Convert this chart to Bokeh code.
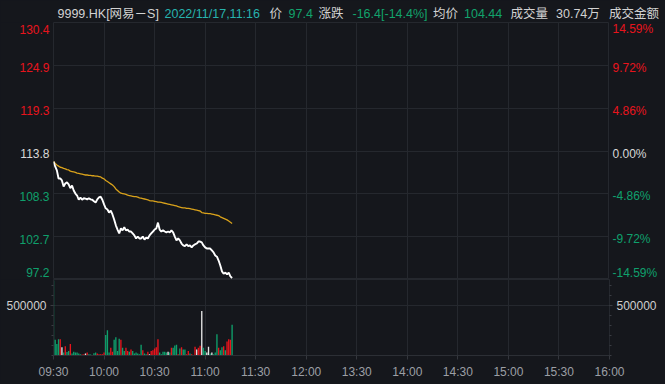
from bokeh.plotting import figure
from bokeh.models import Range1d, FixedTicker, ColumnDataSource, LinearAxis
from bokeh.layouts import column, row
from bokeh.transform import factor_cmap
from bokeh.core.properties import value
from bokeh.embed import file_html
from bokeh.resources import INLINE

# ---------------- data ----------------
prev_close = 113.8
minutes = list(range(107))  # minutes since 09:30 (11:16 last)
price = [
    112.44, 111.8, 111.3, 110.25, 110.25, 110.0, 109.2, 109.6, 109.75, 109.5,
    109.0, 109.35, 108.7, 108.3, 108.05, 107.5, 107.8, 107.5, 107.7, 107.65,
    107.55, 107.7, 107.55, 107.5, 107.3, 107.15, 107.55, 107.8, 107.9, 107.5,
    106.9, 106.4, 106.25, 105.85, 106.1, 105.6, 104.95, 104.2, 103.65, 103.15,
    103.8, 103.55, 103.95, 103.55, 103.65, 103.4, 103.4, 103.15, 102.9, 102.5,
    102.75, 102.5, 102.5, 102.75, 102.35, 102.6, 102.5, 102.9, 103.15, 103.4,
    103.65, 103.8, 104.55, 103.65, 103.4, 103.55, 103.4, 103.3, 103.4, 103.3,
    103.55, 103.3, 102.75, 102.25, 102.5, 102.25, 101.85, 101.6, 101.5, 101.75,
    101.5, 101.6, 101.35, 101.6, 101.75, 101.85, 102.1, 102.1, 102.0, 101.6,
    101.35, 101.2, 101.2, 101.2, 100.95, 100.7, 100.3, 100.15, 99.65, 99.0,
    98.25, 97.95, 98.1, 97.85, 98.1, 97.6, 97.4]
avg_price = [
    112.45, 112.2, 112.0, 111.85, 111.7, 111.65, 111.55, 111.5, 111.4, 111.35,
    111.2, 111.15, 111.1, 111.05, 110.95, 110.9, 110.85, 110.8, 110.75, 110.7,
    110.7, 110.65, 110.65, 110.6, 110.6, 110.55, 110.55, 110.5, 110.45, 110.3,
    110.2, 110.0, 109.85, 109.7, 109.55, 109.4, 109.2, 108.9, 108.7, 108.5,
    108.35, 108.3, 108.25, 108.2, 108.1, 108.05, 108.0, 107.95, 107.9, 107.9,
    107.85, 107.75, 107.7, 107.65, 107.6, 107.55, 107.5, 107.4, 107.35, 107.35,
    107.3, 107.25, 107.2, 107.2, 107.15, 107.1, 107.05, 107.0, 106.95, 106.9,
    106.85, 106.8, 106.75, 106.7, 106.6, 106.55, 106.5, 106.45, 106.45, 106.4,
    106.4, 106.35, 106.3, 106.25, 106.2, 106.15, 106.1, 106.05, 105.85, 105.8,
    105.75, 105.75, 105.7, 105.7, 105.65, 105.6, 105.55, 105.5, 105.45, 105.3,
    105.2, 105.1, 105.0, 104.9, 104.75, 104.6, 104.44]
volume = [
    745000, 156000, 115000, 162000, 162000, 83000, 29000, 92000, 35000, 45000,
    115000, 19000, 38000, 29000, 29000, 19000, 13000, 9000, 13000, 19000,
    29000, 13000, 10000, 6000, 22000, 29000, 19000, 13000, 13000, 13000,
    29000, 204000, 252000, 29000, 76000, 38000, 156000, 182000, 45000, 166000,
    156000, 76000, 45000, 76000, 45000, 38000, 60000, 45000, 19000, 29000,
    19000, 13000, 108000, 51000, 19000, 13000, 38000, 13000, 45000, 51000,
    70000, 83000, 162000, 29000, 13000, 38000, 38000, 29000, 38000, 29000,
    76000, 76000, 99000, 108000, 13000, 70000, 83000, 60000, 60000, 13000,
    45000, 19000, 13000, 6000, 86000, 60000, 76000, 96000, 443000, 76000,
    45000, 29000, 86000, 19000, 29000, 13000, 29000, 210000, 76000, 51000,
    83000, 92000, 51000, 140000, 162000, 156000, 306000]
direction = [
    "d", "d", "d", "d", "u", "f", "d", "u", "d", "d",
    "u", "d", "d", "d", "d", "d", "d", "u", "u", "f",
    "u", "d", "d", "d", "d", "d", "u", "u", "u", "u",
    "u", "d", "d", "d", "u", "u", "d", "d", "d", "d",
    "u", "d", "d", "u", "u", "d", "u", "d", "d", "d",
    "d", "d", "d", "u", "d", "d", "u", "f", "u", "u",
    "u", "u", "u", "d", "d", "d", "d", "d", "f", "d",
    "u", "d", "d", "d", "u", "d", "u", "d", "d", "u",
    "u", "d", "u", "d", "u", "f", "u", "u", "f", "d",
    "d", "f", "f", "d", "f", "d", "d", "d", "u", "d",
    "d", "u", "d", "u", "u", "u", "d"]
time_ticks = [0, 30, 60, 90, 120, 150, 180, 210, 240, 270, 300, 330]
time_labels = ["09:30", "10:00", "10:30", "11:00", "11:30", "12:00",
               "13:30", "14:00", "14:30", "15:00", "15:30", "16:00"]
price_ticks = [130.4, 124.9, 119.3, 113.8, 108.3, 102.7, 97.2]
price_labels = ["130.4", "124.9", "119.3", "113.8", "108.3", "102.7", "97.2"]
pct_labels = ["14.59%", "9.72%", "4.86%", "0.00%", "-4.86%", "-9.72%", "-14.59%"]
vol_tick = 500000
vol_minor = [0, 100000, 200000, 300000, 400000, 500000, 600000, 700000]
header_text = ["9999.HK[网易－S]", "2022/11/17,11:16", "价", "97.4", "涨跌",
               "-16.4[-14.4%]", "均价", "104.44", "成交量", "30.74万", "成交金额"]
header_kind = ["name", "time", "key", "val", "key", "val", "key", "val", "key",
               "plain", "key"]

# ---------------- style ----------------
BG = "#15171c"
GRID = "#25282e"
RED = "#e8141c"
GREEN = "#0fa06c"
WHITE = "#e6e6e6"
GOLD = "#d9a21b"
LABEL_GRAY = "#9c9fa5"
FONT = "Liberation Sans, Noto Sans CJK SC, sans-serif"
W = 665
FRAME_L, FRAME_R = 53, 56
FW = W - FRAME_L - FRAME_R
HEAD_H = 22
PRICE_H = 257


def bare(fig):
    fig.xaxis.visible = False
    fig.yaxis.visible = False
    fig.xgrid.visible = False
    fig.ygrid.visible = False
    return fig


common = dict(output_backend="svg", toolbar_location=None,
              min_border_left=0, min_border_right=0, min_border_top=0, min_border_bottom=0,
              background_fill_color=BG, border_fill_color=BG)

# ---------------- header strip ----------------
ph = bare(figure(width=W, height=HEAD_H, x_range=Range1d(0, W), y_range=Range1d(HEAD_H, 0),
                 outline_line_color=None, **common))
head_x = [57, 164, 269, 288, 318, 352, 432.5, 463.5, 510, 555.5, 608.5]
head_col_map = {"name": "#d2d2d2", "time": "#27b3ae", "key": "#d2d2d2",
                "val": "#12a36c", "plain": "#d2d2d2"}
ph.text(x=head_x, y=[13] * len(head_x), text=header_text,
        text_color=[head_col_map[k] for k in header_kind],
        text_font=value(FONT), text_font_size="12.5px",
        text_align="left", text_baseline="middle")

# ---------------- price panel ----------------
yr = Range1d(price_ticks[-1], price_ticks[0])
pp = figure(width=FW, height=PRICE_H, x_range=Range1d(0, 330), y_range=yr,
            outline_line_color=GRID, **common)
pp.xaxis.visible = False
pp.yaxis.visible = False
pp.xgrid.ticker = FixedTicker(ticks=time_ticks)
pp.ygrid.ticker = FixedTicker(ticks=price_ticks)
pp.xgrid.grid_line_color = GRID
pp.ygrid.grid_line_color = GRID
pp.line(minutes, avg_price, line_color=GOLD, line_width=1.3)
pp.line(minutes, price, line_color="white", line_width=1.9)

tick_colors = [RED if t > prev_close else (GREEN if t < prev_close else "#d8d8d8")
               for t in price_ticks]
n = len(price_ticks)
yoffs = [6.5] + [2.5] * (n - 2) + [-7]

pl = bare(figure(width=FRAME_L, height=PRICE_H, x_range=Range1d(0, FRAME_L), y_range=yr,
                 outline_line_color=None, **common))
pl.text(x=[FRAME_L - 4] * n, y=price_ticks, text=price_labels, text_color=tick_colors,
        y_offset=yoffs, text_font=value(FONT), text_font_size="12px",
        text_align="right", text_baseline="middle")

pr = bare(figure(width=FRAME_R, height=PRICE_H, x_range=Range1d(0, FRAME_R), y_range=yr,
                 outline_line_color=None, **common))
pr.text(x=[3] * n, y=price_ticks, text=pct_labels, text_color=tick_colors,
        y_offset=yoffs, text_font=value(FONT), text_font_size="12px",
        text_align="left", text_baseline="middle")

# ---------------- volume panel ----------------
pv = figure(width=W, height=102, x_range=pp.x_range, y_range=Range1d(0, 755000),
            output_backend="svg", toolbar_location=None,
            min_border_left=FRAME_L, min_border_right=FRAME_R,
            min_border_top=0, min_border_bottom=23,
            background_fill_color=BG, border_fill_color=BG,
            outline_line_color=GRID, y_axis_location=None)
src = ColumnDataSource(dict(t=minutes, vol=volume, d=direction))
pv.vbar(x="t", top="vol", bottom=0, width=0.8, source=src, line_color=None,
        fill_color=factor_cmap("d", palette=[RED, GREEN, WHITE], factors=["u", "d", "f"]))

pv.xaxis.ticker = FixedTicker(ticks=time_ticks)
pv.xaxis.major_label_overrides = {t: l for t, l in zip(time_ticks, time_labels)}
pv.xaxis.major_label_text_color = LABEL_GRAY
pv.xaxis.major_label_text_font = FONT
pv.xaxis.major_label_text_font_size = "12px"
pv.xaxis.major_label_standoff = 5
pv.xaxis.major_tick_out = 4
pv.xaxis.major_tick_in = 0
pv.xaxis.minor_tick_out = 0
pv.xaxis.minor_tick_in = 0
pv.xaxis.major_tick_line_color = "#34373d"
pv.xaxis.axis_line_color = "#2c2f35"
pv.xgrid.ticker = FixedTicker(ticks=time_ticks)
pv.xgrid.grid_line_color = GRID

for side in ("left", "right"):
    ax = LinearAxis(ticker=FixedTicker(ticks=[vol_tick], minor_ticks=vol_minor))
    ax.major_label_overrides = {vol_tick: str(vol_tick)}
    ax.major_label_text_color = "#cfcfcf"
    ax.major_label_text_font = FONT
    ax.major_label_text_font_size = "12px"
    ax.major_label_standoff = 4
    ax.major_tick_out = 3
    ax.major_tick_in = 0
    ax.minor_tick_out = 2
    ax.minor_tick_in = 0
    ax.major_tick_line_color = "#3a3d43"
    ax.minor_tick_line_color = "#3a3d43"
    ax.axis_line_color = GRID
    pv.add_layout(ax, side)
pv.ygrid.ticker = FixedTicker(ticks=[vol_tick])
pv.ygrid.grid_line_color = GRID

# thin bottom rule of the widget
pb_line = bare(figure(width=W, height=1, x_range=Range1d(0, 1), y_range=Range1d(0, 1),
                      outline_line_color=None, output_backend="svg", toolbar_location=None,
                      min_border_left=0, min_border_right=0, min_border_top=0,
                      min_border_bottom=0, background_fill_color="#3a3d43",
                      border_fill_color="#3a3d43"))
pb2 = bare(figure(width=W, height=2, x_range=Range1d(0, 1), y_range=Range1d(0, 1),
                  outline_line_color=None, **common))

layout = column(row(ph), row(pl, pp, pr, spacing=0), row(pv), row(pb_line), row(pb2), spacing=0)
layout.styles = {"background-color": BG}
open("out.html", "w").write(file_html(layout, INLINE))
